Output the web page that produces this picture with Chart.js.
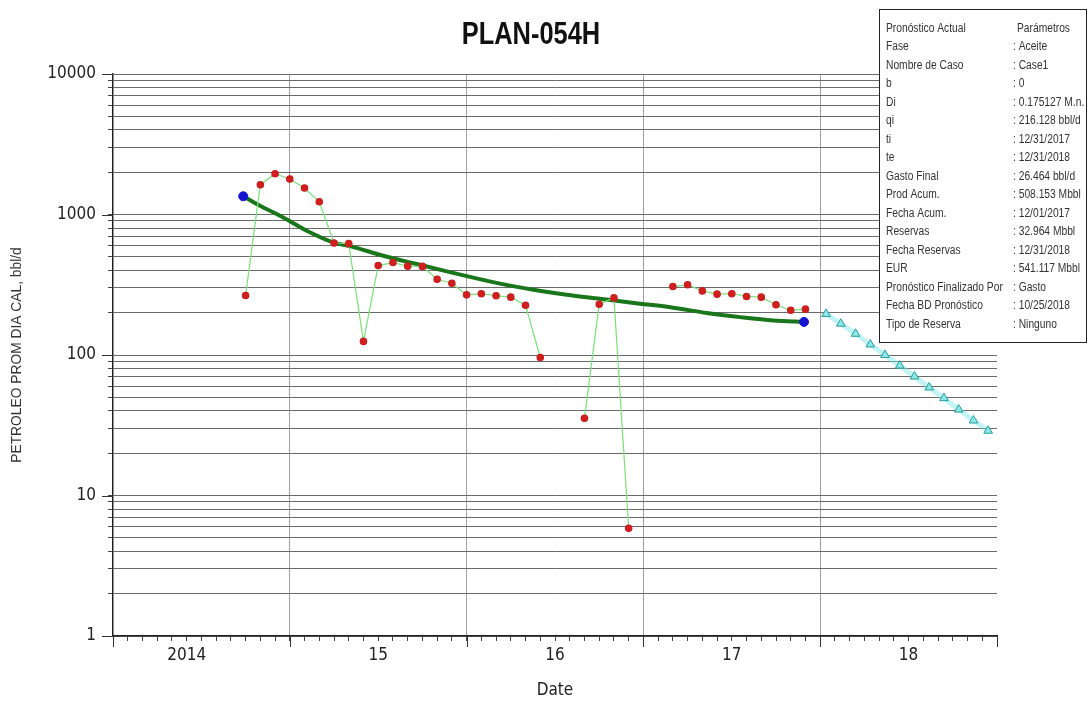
<!DOCTYPE html>
<html>
<head>
<meta charset="utf-8">
<script src="https://cdn.jsdelivr.net/npm/chart.js@4.4.1/dist/chart.umd.min.js"></script>
<style>
  html, body { margin: 0; padding: 0; background: #ffffff; }
  #wrap { width: 1089px; height: 701px; position: relative; }
</style>
</head>
<body>
<div id="wrap"><canvas id="c" width="1089" height="701"></canvas></div>
<script>
// ---------------- DATA ----------------
const yearLabels = ['2014', '15', '16', '17', '18'];          // x tick labels (one per year)
const yTickLabels = ['1', '10', '100', '1000', '10000'];      // y tick labels (log decades)

// Monthly production (bbl/d), first day of month
const prodMonths = ['2014-10','2014-11','2014-12','2015-01','2015-02','2015-03','2015-04','2015-05','2015-06',
  '2015-07','2015-08','2015-09','2015-10','2015-11','2015-12','2016-01','2016-02','2016-03','2016-04','2016-05',
  '2016-06','2016-07','2016-08','2016-09','2016-10','2016-11','2016-12','2017-01','2017-02','2017-03','2017-04',
  '2017-05','2017-06','2017-07','2017-08','2017-09','2017-10','2017-11','2017-12'];
const prodValues = [265, 1630, 1950, 1790, 1545, 1233, 627, 620, 125,
  433, 455, 429, 427, 346, 324, 268, 273, 264, 258, 226,
  96, null, null, 35.5, 230, 255, 5.85, null, null, 307, 316,
  286, 271, 273, 261, 258, 228, 208, 212];

// Decline fit curve (months since Jan 2014 -> bbl/d)
const fitMonths = [8.84, 9.98, 11.11, 11.95, 13.15, 14.95, 16.09, 18.35, 20.61, 22.87,
  26.27, 28.53, 30.79, 33.05, 35.77, 38.03, 40.30, 42.56, 44.82, 46.90];
const fitValues = [1348, 1155, 1008, 904, 767, 634, 595, 509, 444, 389,
  322, 291, 268, 251, 232, 217, 199, 186, 176, 172];

// Forecast (months since Jan 2014 -> bbl/d)
const fcMonths = [48.4, 49.4, 50.4, 51.4, 52.4, 53.4, 54.4, 55.4, 56.4, 57.4, 58.4, 59.4];
const fcValues = [196, 167, 141.6, 118.8, 100, 84, 70.3, 58.7, 49.3, 40.9, 34.2, 28.9];

// Info box
const infoLabels = ['Pronóstico Actual','Fase','Nombre de Caso','b','Di','qi','ti','te','Gasto Final',
  'Prod Acum.','Fecha Acum.','Reservas','Fecha Reservas','EUR','Pronóstico Finalizado Por',
  'Fecha BD Pronóstico','Tipo de Reserva'];
const infoValues = ['Parámetros',': Aceite',': Case1',': 0',': 0.175127 M.n.',': 216.128 bbl/d',
  ': 12/31/2017',': 12/31/2018',': 26.464 bbl/d',': 508.153 Mbbl',': 12/01/2017',': 32.964 Mbbl',
  ': 12/31/2018',': 541.117 Mbbl',': Gasto',': 10/25/2018',': Ninguno'];

// --------------------------------------
const COND = "'DejaVu Sans Condensed', 'Liberation Sans', sans-serif";
const SANS = "'Liberation Sans', Arial, sans-serif";
const monthIndex = s => { const [y, m] = s.split('-').map(Number); return (y - 2014) * 12 + (m - 1); };
const prodData = prodMonths.map((m, i) => ({ x: monthIndex(m), y: prodValues[i] }));
const fitData = fitMonths.map((m, i) => ({ x: m, y: fitValues[i] }));
const endData = [fitData[0], fitData[fitData.length - 1]];
const fcData = fcMonths.map((m, i) => ({ x: m, y: fcValues[i] }));
// label position (month index) for each year label
const yearLabelPos = yearLabels.map((_, i) => i * 12 + (i === 0 ? 5 : 6));

function narrowText(ctx, text, x, y, sx) {
  ctx.save();
  ctx.scale(sx, 1);
  ctx.fillText(text, x / sx, y);
  ctx.restore();
}

const decorPlugin = {
  id: 'decor',
  afterDraw(chart) {
    const ctx = chart.ctx;
    const xs = chart.scales.x, ys = chart.scales.y;
    ctx.save();
    // longer major ticks
    ctx.strokeStyle = '#333';
    ctx.lineWidth = 1;
    for (let k = 0; k <= 5; k++) {
      const px = Math.round(xs.getPixelForValue(k * 12)) + 0.5;
      ctx.beginPath(); ctx.moveTo(px, xs.top); ctx.lineTo(px, xs.top + 11); ctx.stroke();
    }
    for (let e = 0; e <= 4; e++) {
      const py = Math.round(ys.getPixelForValue(Math.pow(10, e))) + 0.5;
      ctx.beginPath(); ctx.moveTo(ys.right, py); ctx.lineTo(ys.right - 11, py); ctx.stroke();
    }
    // title
    ctx.fillStyle = '#111';
    ctx.font = "bold 31px " + SANS;
    ctx.textAlign = 'center';
    ctx.textBaseline = 'middle';
    narrowText(ctx, 'PLAN-054H', 531, 35, 0.82);
    // info box
    const bx = 879.5, by = 9.5, bw = 207, bh = 333;
    ctx.fillStyle = '#fff';
    ctx.fillRect(bx, by, bw, bh);
    ctx.strokeStyle = '#222';
    ctx.lineWidth = 1;
    ctx.strokeRect(bx, by, bw, bh);
    ctx.save();
    ctx.beginPath(); ctx.rect(bx, by, bw - 1, bh); ctx.clip();
    ctx.font = "12.5px " + SANS;
    ctx.fillStyle = '#333';
    ctx.textAlign = 'left';
    for (let i = 0; i < infoLabels.length; i++) {
      const ty = 28.5 + i * 18.5;
      narrowText(ctx, infoLabels[i], 886, ty, 0.82);
      narrowText(ctx, infoValues[i], i === 0 ? 1017 : 1013, ty, 0.82);
    }
    ctx.restore();
    ctx.restore();
  }
};

new Chart(document.getElementById('c'), {
  type: 'line',
  data: {
    datasets: [
      { label: 'ends', data: endData, showLine: false, pointRadius: 4.5, pointBackgroundColor: '#1515d0',
        pointBorderColor: '#1515d0', order: 0 },
      { label: 'prod', data: prodData, borderColor: '#7be07b', borderWidth: 1.2, spanGaps: false,
        pointRadius: 3.2, pointBackgroundColor: '#d41e1e', pointBorderColor: '#c42020', order: 1 },
      { label: 'fit', data: fitData, borderColor: '#1a761a', borderWidth: 4, pointRadius: 0,
        cubicInterpolationMode: 'monotone', order: 2 },
      { label: 'forecast', data: fcData, borderColor: 'rgba(120,230,230,0.45)', borderWidth: 5,
        pointStyle: 'triangle', pointRadius: 5, pointBackgroundColor: '#8ee8e8',
        pointBorderColor: '#2a9c9c', pointBorderWidth: 1, order: 3 }
    ]
  },
  options: {
    responsive: false,
    animation: false,
    events: [],
    layout: { padding: { top: 74, right: 92, bottom: 0, left: 0 } },
    plugins: { legend: { display: false }, title: { display: false }, tooltip: { enabled: false } },
    scales: {
      x: {
        type: 'linear', min: 0, max: 60, position: 'bottom',
        afterBuildTicks: s => { const t = []; for (let i = 0; i <= 60; i++) t.push({ value: i }); s.ticks = t; },
        afterFit: s => { s.height = 65; },
        ticks: {
          autoSkip: false, maxRotation: 0, minRotation: 0, padding: 4,
          color: '#222', font: { family: COND, size: 17 },
          callback: v => { const i = yearLabelPos.indexOf(v); return i >= 0 ? yearLabels[i] : ''; }
        },
        grid: {
          color: c => (c.tick && c.tick.value % 12 === 0 && c.tick.value > 0 && c.tick.value < 60 ? '#a0a0a0' : 'rgba(0,0,0,0)'),
          tickColor: '#444', tickLength: 5, lineWidth: 1
        },
        border: { display: true, color: '#222', width: 1.5 },
        title: { display: true, text: 'Date', color: '#222', font: { family: COND, size: 17 }, padding: { top: 0, bottom: 0 } }
      },
      y: {
        type: 'logarithmic', min: 1, max: 10000, position: 'left',
        afterBuildTicks: s => { const t = []; for (let e = 0; e < 4; e++) for (let k = 1; k < 10; k++) t.push({ value: k * Math.pow(10, e) }); t.push({ value: 10000 }); s.ticks = t; },
        afterFit: s => { s.width = 113; },
        ticks: {
          autoSkip: false, padding: 12, color: '#222', font: { family: COND, size: 17 },
          callback: v => { const e = Math.round(Math.log10(v)); return Math.abs(Math.pow(10, e) - v) < 1e-9 ? yTickLabels[e] : ''; }
        },
        grid: { color: '#6a6a6a', tickColor: '#444', tickLength: 5, lineWidth: 1 },
        border: { display: true, color: '#222', width: 1.5 },
        title: { display: true, text: 'PETROLEO PROM DIA CAL, bbl/d', color: '#333',
          font: { family: SANS, size: 13.8 }, padding: { top: 9, bottom: 0 } }
      }
    }
  },
  plugins: [decorPlugin]
});
</script>
</body>
</html>
